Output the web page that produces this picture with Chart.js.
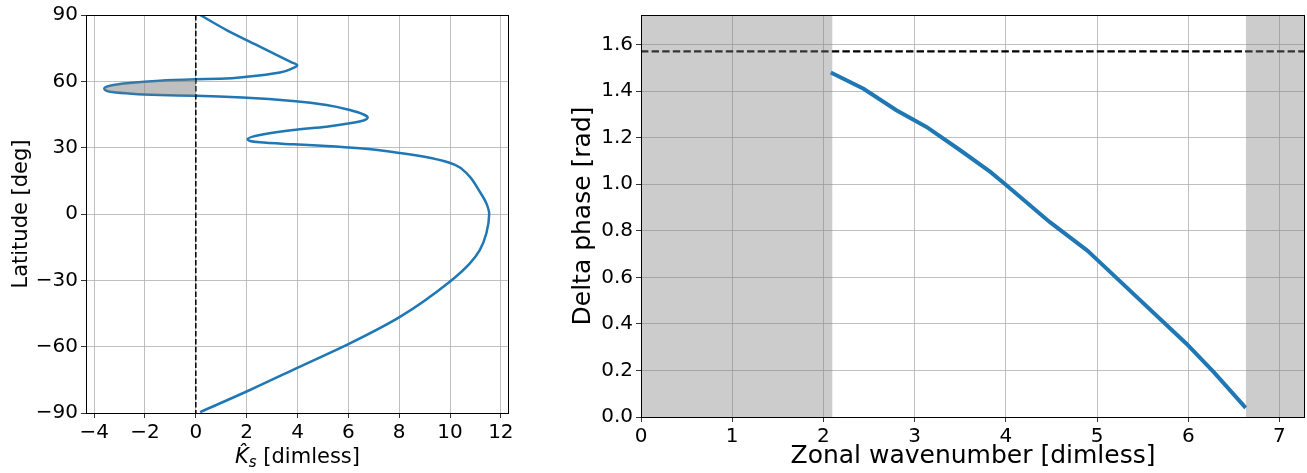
<!DOCTYPE html>
<html lang="en">

<head>
    <meta charset="UTF-8" />
    <title>Ks profile and delta phase</title>
    <script src="https://cdn.jsdelivr.net/npm/chart.js"></script>
    <style>
        body { margin: 0; background: #fff; font-family: "DejaVu Sans", sans-serif; }
        .panel { position: absolute; top: 0; height: 473px; }
        #izq { left: 0; width: 520px; }
        #der { left: 560px; width: 747px; }
        #ksLabel {
            position: absolute; left: 86px; width: 423px; top: 444px;
            text-align: center; font-size: 21px; line-height: 24px; color: #000;
        }
        #ksLabel sub { font-size: 15px; vertical-align: -4px; line-height: 0; }
    </style>
</head>

<body>
    <div class="panel" id="izq"><canvas id="graficaKs"></canvas></div>
    <div class="panel" id="der"><canvas id="graficaFase"></canvas></div>
    <div id="ksLabel"><i>K&#770;<sub>s</sub></i> [dimless]</div>

    <script>
        // Datos del panel izquierdo: Ks vs latitud (de norte a sur)
        const latitud = [90, 83.2, 75.7, 71.2, 68.7, 67.3, 65.9, 64.0, 62.1, 61.2, 60.9, 60.3, 59.1, 58.0,
            56.8, 55.3, 54.6, 53.8, 53.5, 52.6, 51.1, 49.3, 47.0, 45.0, 43.7, 42.3, 41.0, 39.5, 38.0,
            35.7, 33.9, 32.4, 31.5, 30.75, 29.7, 27.6, 25.3, 22.2, 17.6, 10.1, 4.8, 0, -8.7,
            -16.3, -22.3, -30.6, -46.5, -58.5, -69, -79.6, -89.6];
        const ks = [0.17, 1.21, 2.52, 3.31, 3.75, 3.99, 3.8, 3.31, 2.0, 0.95, 0, -1.41, -2.72, -3.37,
            -3.6, -3.37, -2.72, -1.41, 0, 2.0, 3.83, 5.14, 6.06, 6.6, 6.76, 6.6, 6.06, 5.14, 3.83,
            2.52, 2.04, 2.52, 3.83, 5.14, 6.45, 8.03, 9.25, 10.2, 10.72, 11.17, 11.43, 11.54, 11.43,
            11.17, 10.78, 9.99, 8.03, 6.06, 4.1, 2.13, 0.17];
        // Región negativa sombreada (entre Ks y 0)
        const latSombra = [60.9, 60.3, 59.1, 58.0, 56.8, 55.3, 54.6, 53.8, 53.5];
        const ksSombra = [0, -1.41, -2.72, -3.37, -3.6, -3.37, -2.72, -1.41, 0];
        const ticksKs = [-4, -2, 0, 2, 4, 6, 8, 10, 12];
        const ticksLat = [-90, -60, -30, 0, 30, 60, 90];

        // Datos del panel derecho: diferencia de fase vs número de onda zonal
        const numOnda = [2.08, 2.44, 2.80, 3.13, 3.50, 3.83, 4.0, 4.48, 4.89, 5.0, 5.98, 6.28, 6.63];
        const deltaFase = [1.48, 1.41, 1.318, 1.246, 1.146, 1.053, 0.998, 0.838, 0.716, 0.676, 0.315, 0.193, 0.039];
        const bandaIzq = [0, 2.10];
        const bandaDer = [6.63, 7.28];
        const ticksOnda = [0, 1, 2, 3, 4, 5, 6, 7];
        const ticksFase = [0, 0.2, 0.4, 0.6, 0.8, 1.0, 1.2, 1.4, 1.6];
        const faseMax = 1.727;

        const AZUL = '#1f77b4';
        const fuente = { family: 'DejaVu Sans', size: 20 };
        const menos = v => String(v).replace('-', '\u2212');

        // Marco negro en los cuatro lados, como matplotlib
        const marco = {
            id: 'marco',
            afterDatasetsDraw(chart) {
                const a = chart.chartArea, ctx = chart.ctx;
                ctx.save();
                ctx.strokeStyle = '#000';
                ctx.lineWidth = 1;
                ctx.strokeRect(Math.round(a.left) + 0.5, Math.round(a.top) + 0.5,
                    Math.round(a.right - a.left) - 1, Math.round(a.bottom - a.top));
                ctx.restore();
            }
        };

        function ejes(min, max, ticks, ancho, fmt, titulo) {
            return {
                type: 'linear', min, max,
                afterBuildTicks: s => { s.ticks = ticks.map(v => ({ value: v })); },
                afterFit: s => { if (s.isHorizontal()) s.height = ancho; else s.width = ancho; },
                grid: { color: '#b0b0b0', lineWidth: 0.8, tickColor: '#000', tickLength: 5 },
                border: { display: false },
                ticks: { color: '#000', font: fuente, padding: 3, callback: fmt, maxRotation: 0, autoSkip: false },
                title: titulo
            };
        }

        const comun = {
            responsive: true,
            maintainAspectRatio: false,
            animation: false,
            plugins: { legend: { display: false }, tooltip: { enabled: false } },
            elements: { point: { radius: 0 } }
        };

        // Panel izquierdo: curva x = Ks(lat), interpolación monótona sobre el eje y
        new Chart(document.getElementById('graficaKs'), {
            type: 'line',
            data: {
                datasets: [
                    {
                        data: latSombra.map((y, i) => ({ x: ksSombra[i], y })),
                        indexAxis: 'y', cubicInterpolationMode: 'monotone', borderWidth: 0,
                        fill: 'shape', backgroundColor: 'rgba(128,128,128,0.5)'
                    },
                    {
                        data: [{ x: 0, y: 90 }, { x: 0, y: -90 }],
                        indexAxis: 'y', borderColor: '#000', borderWidth: 1.5, borderDash: [5.5, 2.4], fill: false
                    },
                    {
                        data: latitud.map((y, i) => ({ x: ks[i], y })),
                        indexAxis: 'y', cubicInterpolationMode: 'monotone',
                        borderColor: AZUL, borderWidth: 2.5, fill: false
                    }
                ]
            },
            options: {
                ...comun,
                layout: { padding: { left: 0, top: 15, right: 11, bottom: 0 } },
                scales: {
                    x: ejes(-4.32, 12.32, ticksKs, 60, menos, { display: false }),
                    y: ejes(-90, 90, ticksLat, 86, menos, {
                        display: true, text: 'Latitude [deg]', color: '#000',
                        font: { family: 'DejaVu Sans', size: 21 }, padding: { top: 9 }
                    })
                }
            },
            plugins: [marco]
        });

        // Panel derecho
        new Chart(document.getElementById('graficaFase'), {
            type: 'scatter',
            data: {
                datasets: [
                    {
                        data: bandaIzq.map(x => ({ x, y: faseMax })),
                        showLine: true, borderWidth: 0, fill: 'start', backgroundColor: 'rgba(128,128,128,0.4)'
                    },
                    {
                        data: bandaDer.map(x => ({ x, y: faseMax })),
                        showLine: true, borderWidth: 0, fill: 'start', backgroundColor: 'rgba(128,128,128,0.4)'
                    },
                    {
                        data: [{ x: 0, y: Math.PI / 2 }, { x: 7.28, y: Math.PI / 2 }],
                        showLine: true, borderColor: '#000', borderWidth: 2.2, borderDash: [7.4, 3.2]
                    },
                    {
                        data: numOnda.map((x, i) => ({ x, y: deltaFase[i] })),
                        showLine: true, borderColor: AZUL, borderWidth: 4, tension: 0
                    }
                ]
            },
            options: {
                ...comun,
                layout: { padding: { left: 0, top: 15, right: 2, bottom: 0 } },
                scales: {
                    x: ejes(0, 7.28, ticksOnda, 56, v => String(v), {
                        display: true, text: 'Zonal wavenumber [dimless]', color: '#000',
                        font: { family: 'DejaVu Sans', size: 25 }, padding: { bottom: 2 }
                    }),
                    y: ejes(0, faseMax, ticksFase, 81, v => v.toFixed(1), {
                        display: true, text: 'Delta phase [rad]', color: '#000',
                        font: { family: 'DejaVu Sans', size: 25 }, padding: { top: 8 }
                    })
                }
            },
            plugins: [marco]
        });
    </script>
</body>

</html>
